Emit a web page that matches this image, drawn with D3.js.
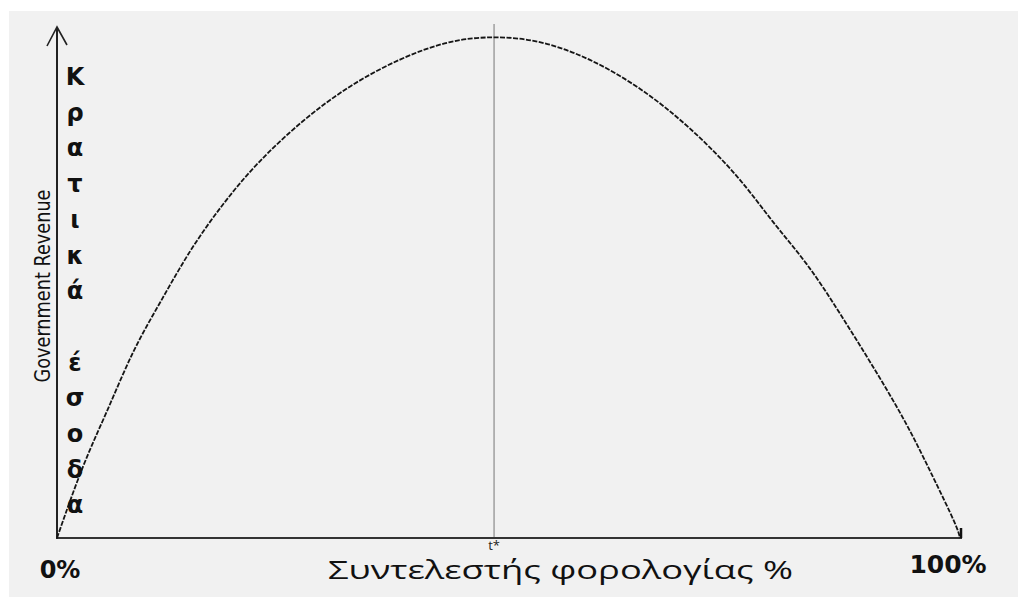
<!DOCTYPE html>
<html>
<head>
<meta charset="utf-8">
<script src="https://cdn.jsdelivr.net/npm/d3@7"></script>
<style>
  body { margin: 0; background: #fff; }
</style>
</head>
<body>
<script>
'use strict';

// tax rate (%) along the curve
const taxRates = [0, 2.9, 5.5, 8.4, 11.4, 14.7, 18.4, 22.1, 27.2, 32.4, 38.0, 43.5, 48.4,
  53.5, 59.0, 64.6, 70.1, 75.6, 79.3, 83.1, 86.7, 90.4, 94.1, 97.0, 99.7, 100];
// revenue (% of max) at each tax rate
const revenues = [0, 14.9, 24.9, 37.5, 46.8, 57.4, 66.7, 74.7, 83.3, 90.2, 95.6, 99.2, 100,
  99.2, 95.6, 89.8, 81.9, 71.9, 62.7, 54.8, 44.8, 34.1, 22.9, 12.2, 2.2, 0];
// optimal tax rate t*
const optimalRate = 48.4;
const xEndLabels = ["0%", "100%"];
const yLetters = ["Κ", "ρ", "α", "τ", "ι", "κ", "ά", " ", "έ", "σ", "ο", "δ", "α"];

const width = 1018, height = 597;

let svg = d3.select('body').append('svg')
  .attr('width', width)
  .attr('height', height);

// grey panel
svg.append('rect')
  .attr('x', 9).attr('y', 11)
  .attr('width', width - 9).attr('height', height - 11)
  .attr('fill', '#f1f1f1');

let xScale = d3.scaleLinear().domain([0, 100]).range([57, 960]);
let yScale = d3.scaleLinear().domain([0, 100]).range([538, 36]);

// t* vertical line
svg.append('line')
  .attr('x1', xScale(optimalRate)).attr('x2', xScale(optimalRate))
  .attr('y1', 24).attr('y2', yScale(0))
  .attr('stroke', '#8a8a8a')
  .attr('stroke-width', 1.2);

// x axis
svg.append('line')
  .attr('x1', xScale(0)).attr('x2', xScale(100) + 2)
  .attr('y1', yScale(0)).attr('y2', yScale(0))
  .attr('stroke', '#333')
  .attr('stroke-width', 2);

// y axis with open arrow
svg.append('line')
  .attr('x1', xScale(0)).attr('x2', xScale(0))
  .attr('y1', yScale(0) + 1).attr('y2', 27)
  .attr('stroke', '#222')
  .attr('stroke-width', 2);
svg.append('path')
  .attr('d', d3.line()([[xScale(0) - 10, 46], [xScale(0), 27], [xScale(0) + 10, 45]]))
  .attr('fill', 'none')
  .attr('stroke', '#222')
  .attr('stroke-width', 1.6);

// the curve
let pts = taxRates.map((t, i) => [t, revenues[i]]);
let line = d3.line()
  .x(d => xScale(d[0]))
  .y(d => yScale(d[1]))
  .curve(d3.curveBasis);

svg.append('path')
  .datum(pts)
  .attr('d', line)
  .attr('fill', 'none')
  .attr('stroke', '#151515')
  .attr('stroke-width', 1.8)
  .attr('stroke-dasharray', '5,1.5');

// small arrow tip at curve end
svg.append('line')
  .attr('x1', xScale(100) + 1).attr('x2', xScale(100) + 1)
  .attr('y1', yScale(0) - 10).attr('y2', yScale(0))
  .attr('stroke', '#111')
  .attr('stroke-width', 2.5);

// vertical greek letters
svg.selectAll('.vletter')
  .data(yLetters)
  .enter()
  .append('text')
  .attr('class', 'vletter')
  .attr('x', 75)
  .attr('y', (d, i) => 85 + i * 35.7)
  .attr('text-anchor', 'middle')
  .style('font-family', '"DejaVu Sans", sans-serif')
  .style('font-weight', 'bold')
  .style('font-size', '24px')
  .attr('fill', '#111')
  .text(d => d);

// Government Revenue label
svg.append('text')
  .attr('transform', 'translate(50, 286) rotate(-90)')
  .attr('text-anchor', 'middle')
  .attr('textLength', 193)
  .attr('lengthAdjust', 'spacingAndGlyphs')
  .style('font-family', '"Liberation Sans Narrow", "DejaVu Sans Condensed", sans-serif')
  .style('font-size', '21px')
  .attr('fill', '#111')
  .text('Government Revenue');

// t* label
svg.append('text')
  .attr('x', xScale(optimalRate))
  .attr('y', 550)
  .attr('text-anchor', 'middle')
  .style('font-family', '"Open Sans", sans-serif')
  .style('font-size', '13px')
  .attr('fill', '#222')
  .text('t*');

// end labels
svg.append('text')
  .attr('x', 60).attr('y', 578)
  .attr('text-anchor', 'middle')
  .style('font-family', '"DejaVu Sans", sans-serif')
  .style('font-weight', 'bold')
  .style('font-size', '24px')
  .attr('fill', '#111')
  .text(xEndLabels[0]);

svg.append('text')
  .attr('x', 948).attr('y', 573)
  .attr('text-anchor', 'middle')
  .style('font-family', '"DejaVu Sans", sans-serif')
  .style('font-weight', 'bold')
  .style('font-size', '25px')
  .attr('fill', '#111')
  .text(xEndLabels[1]);

// x axis title
svg.append('text')
  .attr('x', 328).attr('y', 579)
  .attr('textLength', 465)
  .attr('lengthAdjust', 'spacingAndGlyphs')
  .style('font-family', '"Open Sans", sans-serif')
  .style('font-size', '25px')
  .style('font-weight', 500)
  .attr('fill', '#111')
  .text('Συντελεστής φορολογίας %');
</script>
</body>
</html>
